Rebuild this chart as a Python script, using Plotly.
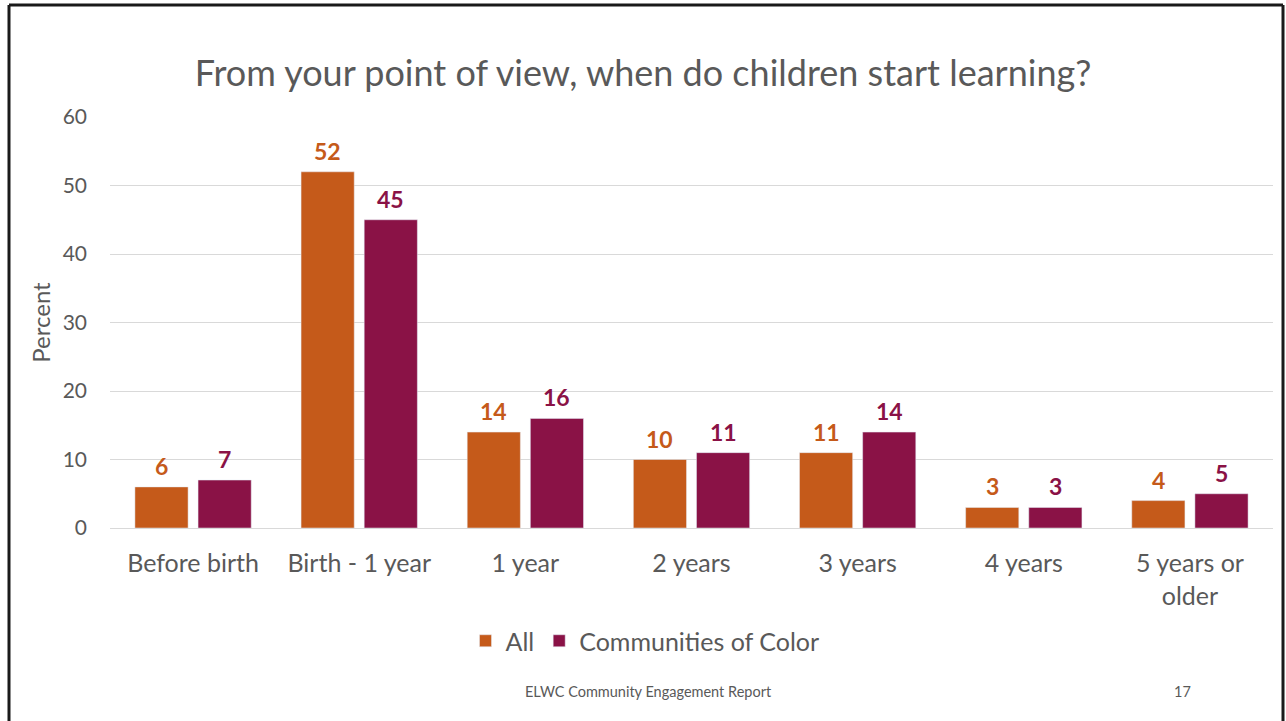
import plotly.graph_objects as go

categories = ["Before birth", "Birth - 1 year", "1 year", "2 years", "3 years", "4 years", "5 years or<br>older"]
all_vals = [6, 52, 14, 10, 11, 3, 4]
coc_vals = [7, 45, 16, 11, 14, 3, 5]
yticks = [0, 10, 20, 30, 40, 50, 60]

ORANGE = "#C55A1A"
PURPLE = "#8A1246"
GRAY = "#595959"
FONT = "Lato"

W, H = 1286, 721
L, R, T, B = 110, 13, 117, 193
pw, ph = W - L - R, H - T - B

BAR_W = 0.32
OFF_ALL, OFF_COC = -0.35, 0.03


def px(x):
    return (x - L) / pw


def py(y):
    return (H - B - y) / ph


fig = go.Figure()
fig.add_trace(go.Bar(name="All", x=categories, y=all_vals, marker_color=ORANGE,
                     width=BAR_W, offset=OFF_ALL))
fig.add_trace(go.Bar(name="Communities of Color", x=categories, y=coc_vals, marker_color=PURPLE,
                     width=BAR_W, offset=OFF_COC))

# data labels above bars
for vals, off, col in [(all_vals, OFF_ALL, ORANGE), (coc_vals, OFF_COC, PURPLE)]:
    for i, v in enumerate(vals):
        fig.add_annotation(x=i + off + BAR_W / 2, y=v, xref="x", yref="y", text=str(v),
                           showarrow=False, yanchor="middle", yshift=21,
                           font=dict(size=23, color=col, family=FONT, weight="bold"))

fig.update_layout(
    width=W, height=H,
    margin=dict(l=L, r=R, t=T, b=B),
    paper_bgcolor="white", plot_bgcolor="white",
    font=dict(family=FONT, color=GRAY),
    barmode="group",
    title=dict(text="From your point of view, when do children start learning?",
               font=dict(size=36, color=GRAY, family=FONT),
               x=0.5, xanchor="center", xref="container",
               y=1 - 73 / H, yanchor="middle", yref="container"),
    legend=dict(orientation="h", x=px(645), xanchor="center", y=py(641), yanchor="middle",
                font=dict(size=25, color=GRAY, family=FONT),
                traceorder="normal"),
    showlegend=True,
)
fig.update_yaxes(range=[0, 60], tickvals=yticks, showgrid=True, gridcolor="#D9D9D9", gridwidth=1,
                 zeroline=True, zerolinecolor="#D9D9D9", zerolinewidth=1,
                 tickfont=dict(size=21, color=GRAY), ticklabelstandoff=22,
                 title=dict(text="Percent", font=dict(size=24, color=GRAY), standoff=5),
                 showline=False)
fig.update_xaxes(range=[-0.5, 6.5], tickfont=dict(size=25, color=GRAY), showline=False,
                 ticklabelstandoff=18)

# footer text
fig.add_annotation(text="ELWC Community Engagement Report", xref="paper", yref="paper",
                   x=px(648), y=py(691), showarrow=False, xanchor="center", yanchor="middle",
                   font=dict(size=14.5, color=GRAY, family=FONT))
fig.add_annotation(text="17", xref="paper", yref="paper",
                   x=px(1182), y=py(691), showarrow=False, xanchor="center", yanchor="middle",
                   font=dict(size=14.5, color=GRAY, family=FONT))

# slide border
for (x0, y0, x1, y1) in [(9, 5, 1283, 5), (9, 5, 9, 721), (1283, 5, 1283, 721)]:
    fig.add_shape(type="line", xref="paper", yref="paper",
                  x0=px(x0), y0=py(y0), x1=px(x1), y1=py(y1),
                  line=dict(color="#1a1a1a", width=3), layer="above")

fig.write_html("out.html", config={"displayModeBar": False},
               post_script="document.body.style.margin='0';")
